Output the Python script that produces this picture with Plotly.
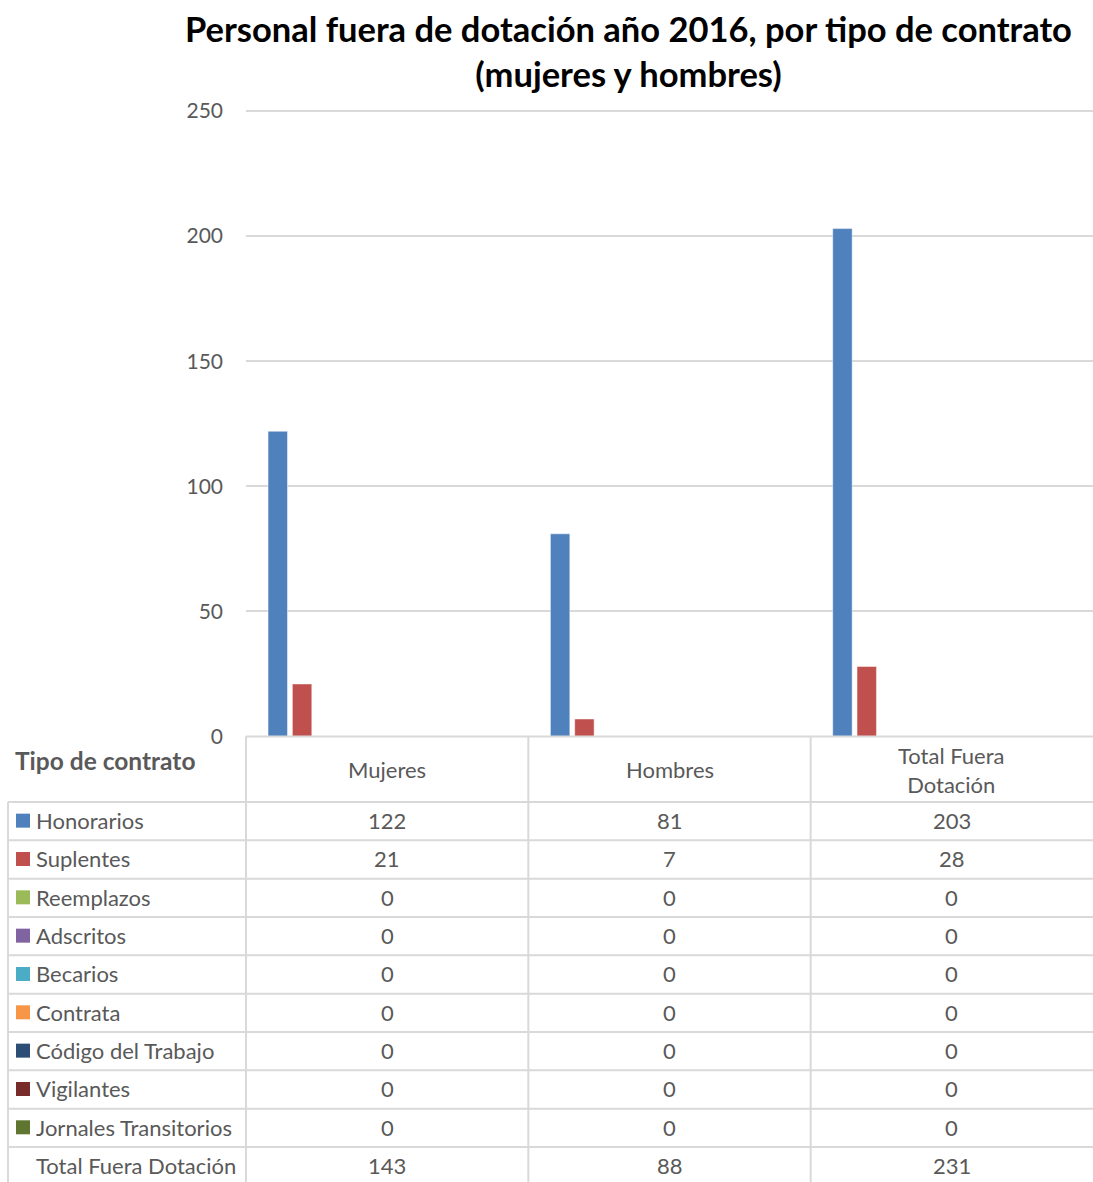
import plotly.graph_objects as go

# Chart data
categories = ["Mujeres", "Hombres", "Total Fuera Dotación"]
category_labels = ["Mujeres", "Hombres", "Total Fuera<br>Dotación"]
series_names = [
    "Honorarios", "Suplentes", "Reemplazos", "Adscritos", "Becarios",
    "Contrata", "Código del Trabajo", "Vigilantes", "Jornales Transitorios",
    "Total Fuera Dotación",
]
honorarios = [122, 81, 203]
suplentes = [21, 7, 28]
reemplazos = [0, 0, 0]
adscritos = [0, 0, 0]
becarios = [0, 0, 0]
contrata = [0, 0, 0]
codigo_trabajo = [0, 0, 0]
vigilantes = [0, 0, 0]
jornales = [0, 0, 0]
total_fuera = [143, 88, 231]
series_values = [honorarios, suplentes, reemplazos, adscritos, becarios,
                 contrata, codigo_trabajo, vigilantes, jornales, total_fuera]
series_colors = ["#4F81BD", "#C0504D", "#9BBB59", "#8064A2", "#4BACC6",
                 "#F79646", "#2C4D75", "#772C2A", "#5F7530", "rgba(0,0,0,0)"]
y_ticks = [0, 50, 100, 150, 200, 250]

W, H = 1093, 1182
FONT = "Lato, Carlito, Calibri, sans-serif"
TXT = "#595959"
GRID = "#D9D9D9"


def px(x):
    return x / W


def py(y):
    return 1 - y / H


# Plot-area geometry (pixels)
PLOT_L, PLOT_R = 246, 1093
PLOT_T, PLOT_B = 111, 736.5
Y_MAX = 250
Y_TOP = 251  # small headroom so the 250 gridline is drawn inside the plot
unit = (PLOT_B - PLOT_T) / Y_MAX
plot_top_px = PLOT_B - Y_TOP * unit

fig = go.Figure()
for name, vals, col in zip(series_names, series_values, series_colors):
    last = name == "Total Fuera Dotación"
    fig.add_trace(go.Bar(
        x=categories, y=vals, name=name,
        marker=dict(color=col,
                    line=dict(width=0 if last else 0.8,
                              color="rgba(255,255,255,0.6)")),
        showlegend=False,
    ))

fig.update_layout(
    template="none",
    width=W, height=H,
    margin=dict(l=0, r=0, t=0, b=0, pad=0),
    paper_bgcolor="white", plot_bgcolor="white",
    barmode="group", bargap=0.139, bargroupgap=0.2,
    font=dict(family=FONT, color=TXT, size=22),
    xaxis=dict(domain=[px(PLOT_L), px(PLOT_R)], range=[-0.5, 2.5],
               showticklabels=False, showgrid=False, zeroline=False,
               showline=False, ticks="", automargin=False),
    yaxis=dict(domain=[py(PLOT_B), py(plot_top_px)], range=[0, Y_TOP],
               tickvals=y_ticks, showgrid=True, gridcolor=GRID, gridwidth=1.5,
               zeroline=False, showline=False, ticks="", automargin=False,
               ticklabelstandoff=22,
               tickfont=dict(family=FONT, size=21, color=TXT)),
)

shapes = []
annotations = []


def hline(y, x0, x1):
    shapes.append(dict(type="line", xref="paper", yref="paper",
                       x0=px(x0), x1=px(x1), y0=py(y), y1=py(y),
                       line=dict(color=GRID, width=2)))


def vline(x, y0, y1):
    shapes.append(dict(type="line", xref="paper", yref="paper",
                       x0=px(x), x1=px(x), y0=py(y0), y1=py(y1),
                       line=dict(color=GRID, width=2)))


def text(x, y, s, size=22, color=TXT, xanchor="center", bold=False):
    annotations.append(dict(xref="paper", yref="paper", x=px(x), y=py(y),
                            text=f"<b>{s}</b>" if bold else s,
                            showarrow=False, xanchor=xanchor, yanchor="middle",
                            font=dict(family=FONT, size=size, color=color)))


# Data table grid
TABLE_L = 8
HEADER_B = 802
ROW_H = 38.33
col_edges = [PLOT_L + i * (PLOT_R - PLOT_L) / 3 for i in range(4)]
col_centers = [(col_edges[i] + col_edges[i + 1]) / 2 for i in range(3)]

hline(PLOT_B, PLOT_L, PLOT_R)
hline(HEADER_B, TABLE_L, PLOT_R)
for k in range(1, len(series_names)):
    hline(HEADER_B + k * ROW_H, TABLE_L, PLOT_R)
vline(TABLE_L, HEADER_B, H)
for xe in col_edges[:-1]:
    vline(xe, PLOT_B, H)

# Header
text(13, 760, "Tipo de contrato", size=24.5, xanchor="left", bold=True)
for cx, lab in zip(col_centers, category_labels):
    text(cx, 769.5, lab)

# Rows: legend key, series name, values
for r, (name, vals, col) in enumerate(zip(series_names, series_values, series_colors)):
    cy = HEADER_B + (r + 0.5) * ROW_H - 0.5
    if name != "Total Fuera Dotación":
        shapes.append(dict(type="rect", xref="paper", yref="paper",
                           x0=px(16), x1=px(30), y0=py(cy - 7), y1=py(cy + 7),
                           fillcolor=col, line=dict(width=0)))
    text(34, cy, name, xanchor="left")
    for cx, v in zip(col_centers, vals):
        text(cx, cy, str(v))

# Title
text(628, 51, "Personal fuera de dotación año 2016, por tipo de contrato<br>(mujeres y hombres)",
     size=34.5, color="#000000", bold=True)

fig.update_layout(shapes=shapes, annotations=annotations)
fig.write_html("out.html")
